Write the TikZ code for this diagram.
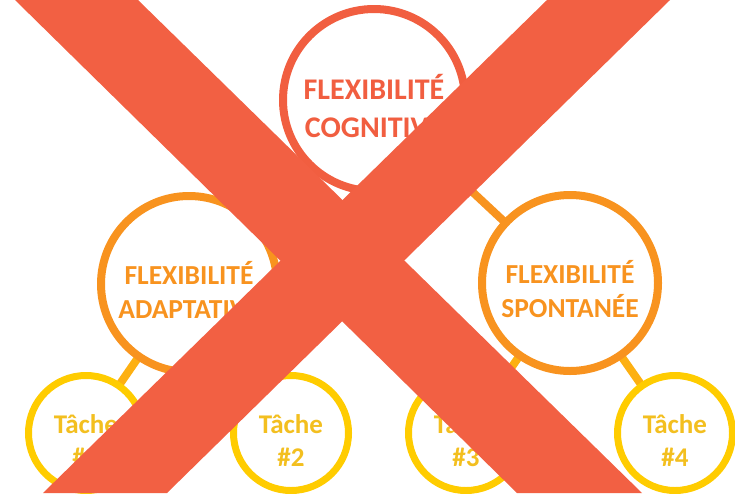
\documentclass[tikz,border=0pt]{standalone}
\usepackage{fontspec}
\setmainfont{Carlito}
\usetikzlibrary{backgrounds}

\definecolor{crossred}{HTML}{F26043}
\definecolor{cogred}{HTML}{F15E40}
\definecolor{midorange}{HTML}{F8931F}
\definecolor{taskyellow}{HTML}{FFCC00}
\definecolor{taskgold}{HTML}{F3BF1F}
\definecolor{linkyellow}{HTML}{FDB012}

\begin{document}
\begin{tikzpicture}[
        x=1pt, y=-1pt,
        bubble/.style={circle, draw, fill=white, inner sep=0pt},
        topbubble/.style={bubble, draw=cogred, line width=8pt, minimum size=182pt},
        midbubble/.style={bubble, draw=midorange, line width=8pt, minimum size=176pt},
        taskbubble/.style={bubble, draw=taskyellow, line width=7pt, minimum size=115pt},
        toptext/.style={align=center, font=\fontsize{30}{38}\selectfont\bfseries, text=cogred},
        midtext/.style={align=center, font=\fontsize{27.5}{34}\selectfont\bfseries, text=midorange},
        tasktext/.style={align=center, font=\fontsize{27}{33}\selectfont\bfseries, text=taskgold},
        link/.style={line width=8pt}
        ]

        \useasboundingbox (0,0) rectangle (735,493);
        \clip (0,0) rectangle (735,493);

        % Circles
        \node (cog)   [topbubble]  at (374,100) {};
        \node (adapt) [midbubble]  at (189,284) {};
        \node (spont) [midbubble]  at (570,283) {};
        \node (task1) [taskbubble] at (86,433)  {};
        \node (task2) [taskbubble] at (291,433) {};
        \node (task3) [taskbubble] at (466,433) {};
        \node (task4) [taskbubble] at (675,433) {};

        % Texts
        \node (cogtxt)   [toptext]  at ([yshift=-6pt]cog.center)   {FLEXIBILITÉ\\COGNITIVE};
        \node (adapttxt) [midtext]  at ([yshift=-6pt]adapt.center) {FLEXIBILITÉ\\ADAPTATIVE};
        \node (sponttxt) [midtext]  at ([yshift=-6pt]spont.center) {FLEXIBILITÉ\\SPONTANÉE};
        \node (task1txt) [tasktext] at ([yshift=-8pt]task1.center) {Tâche\\\#1};
        \node (task2txt) [tasktext] at ([yshift=-8pt]task2.center) {Tâche\\\#2};
        \node (task3txt) [tasktext] at ([yshift=-8pt]task3.center) {Tâche\\\#3};
        \node (task4txt) [tasktext] at ([yshift=-8pt]task4.center) {Tâche\\\#4};

        % Links behind the circles
        \begin{scope}[on background layer]
        \draw[link, midorange]  (cog.center)   -- (adapt.center);
        \draw[link, midorange]  (cog.center)   -- (spont.center);
        \draw[link, linkyellow] (adapt.center) -- (task1.center);
        \draw[link, linkyellow] (adapt.center) -- (task2.center);
        \draw[link, linkyellow] (spont.center) -- (task3.center);
        \draw[link, linkyellow] (spont.center) -- (task4.center);
        \end{scope}

        % The cross on top
        \fill[crossred] (15,0) -- (138,0) -- (642,493) -- (517,493) -- cycle;
        \fill[crossred] (547,0) -- (670,0) -- (167,493) -- (43,493) -- cycle;

    \end{tikzpicture}
\end{document}
